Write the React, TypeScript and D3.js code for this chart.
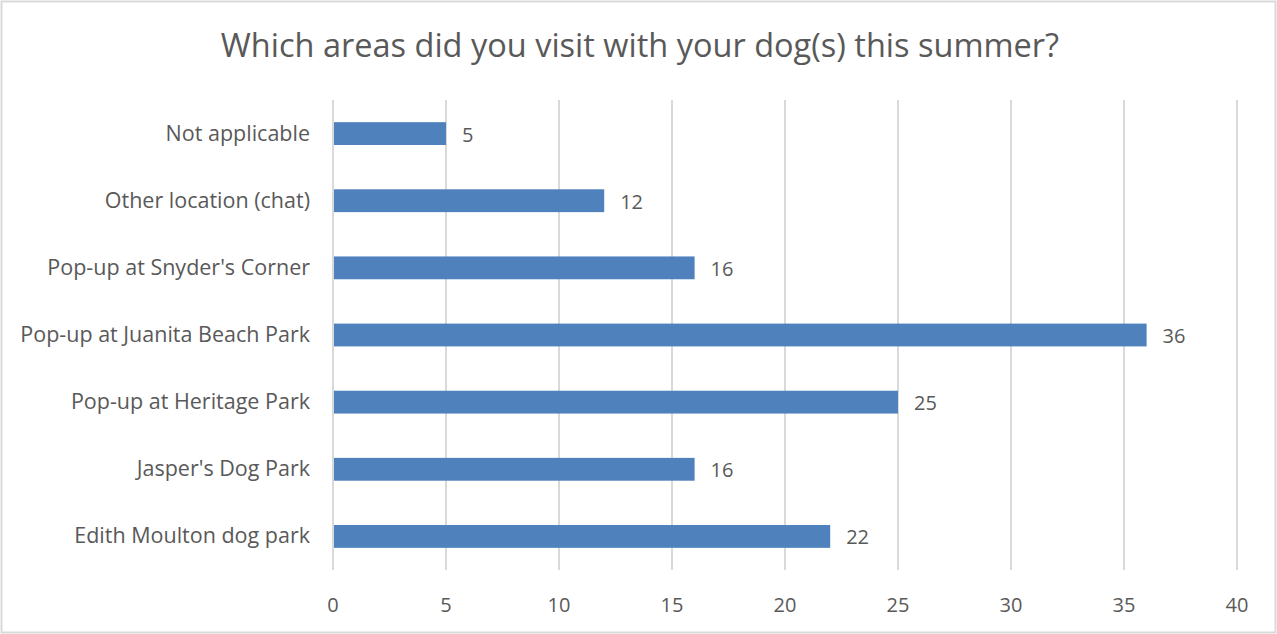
import { useEffect, useRef } from 'react';
import * as d3 from 'd3';

const categories = [
  'Not applicable',
  'Other location (chat)',
  "Pop-up at Snyder's Corner",
  'Pop-up at Juanita Beach Park',
  'Pop-up at Heritage Park',
  "Jasper's Dog Park",
  'Edith Moulton dog park',
];
const counts = [5, 12, 16, 36, 25, 16, 22];
const xTicks = [0, 5, 10, 15, 20, 25, 30, 35, 40];
const title = 'Which areas did you visit with your dog(s) this summer?';

const W = 1277;
const H = 634;
const font = '"Open Sans", Lato, sans-serif';
const textColor = '#595959';

export default function App() {
  const svgRef = useRef<SVGSVGElement | null>(null);

  useEffect(() => {
    if (!svgRef.current) return;
    const svg = d3.select(svgRef.current);
    svg.selectAll('*').remove();

    const left = 333;
    const right = 1237;
    const top = 100;
    const bottom = 570;

    const x = d3.scaleLinear().domain([0, 40]).range([left, right]);
    const y = d3.scaleBand<string>().domain(categories).range([top, bottom]).paddingInner(0.66).paddingOuter(0.33);

    // frame
    svg
      .append('rect')
      .attr('x', 1.5)
      .attr('y', 1.5)
      .attr('width', W - 3)
      .attr('height', H - 3)
      .attr('fill', '#fff')
      .attr('stroke', '#d9d9d9')
      .attr('stroke-width', 2);

    svg
      .append('text')
      .attr('x', 640)
      .attr('y', 57)
      .attr('text-anchor', 'middle')
      .attr('font-family', font)
      .attr('font-size', 32.5)
      .attr('fill', textColor)
      .text(title);

    // gridlines
    svg
      .append('g')
      .selectAll('line')
      .data(xTicks)
      .enter()
      .append('line')
      .attr('x1', (d) => x(d))
      .attr('x2', (d) => x(d))
      .attr('y1', top)
      .attr('y2', bottom)
      .attr('stroke', '#d9d9d9')
      .attr('stroke-width', 2);

    // tick labels
    svg
      .append('g')
      .selectAll('text')
      .data(xTicks)
      .enter()
      .append('text')
      .attr('x', (d) => x(d))
      .attr('y', 612)
      .attr('text-anchor', 'middle')
      .attr('font-family', font)
      .attr('font-size', 20)
      .attr('fill', textColor)
      .text((d) => d);

    // bars
    svg
      .append('g')
      .selectAll('rect')
      .data(categories)
      .enter()
      .append('rect')
      .attr('x', x(0) + 1)
      .attr('y', (d) => y(d)!)
      .attr('width', (_, i) => x(counts[i]) - x(0) - 1)
      .attr('height', y.bandwidth())
      .attr('fill', '#4f81bd');

    // value labels
    svg
      .append('g')
      .selectAll('text')
      .data(categories)
      .enter()
      .append('text')
      .attr('x', (_, i) => x(counts[i]) + 16)
      .attr('y', (d) => y(d)! + y.bandwidth() / 2 + 8)
      .attr('font-family', font)
      .attr('font-size', 20)
      .attr('fill', textColor)
      .text((_, i) => counts[i]);

    // category labels
    svg
      .append('g')
      .selectAll('text')
      .data(categories)
      .enter()
      .append('text')
      .attr('x', 310)
      .attr('y', (d) => y(d)! + y.bandwidth() / 2 + 7)
      .attr('text-anchor', 'end')
      .attr('font-family', font)
      .attr('font-size', 21.5)
      .attr('fill', textColor)
      .text((d) => d);
  }, []);

  return (
    <svg
      ref={svgRef}
      width={W}
      height={H}
      style={{ position: 'absolute', left: 0, top: 0, display: 'block' }}
    />
  );
}
